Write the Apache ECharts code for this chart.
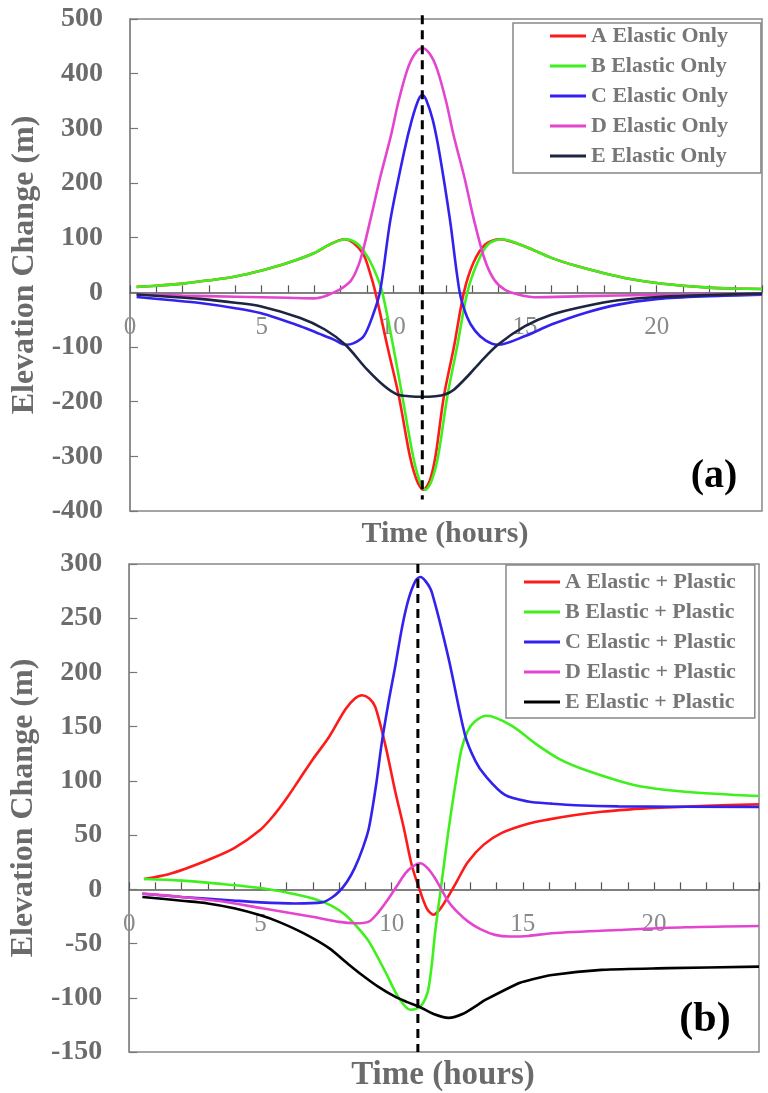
<!DOCTYPE html>
<html>
<head>
<meta charset="utf-8">
<script src="https://cdn.jsdelivr.net/npm/echarts@6/dist/echarts.min.js"></script>
<style>
  html, body { margin: 0; padding: 0; background: #fff; }
  #chart { width: 768px; height: 1093px; }
</style>
</head>
<body>
<div id="chart"></div>
<script>
// Elevation change (m) against time (hours), [hour, metres] pairs per curve.

// (a) elastic deformation only
const aElastic = [[0.25,10],[1,12],[2,16],[3,22],[4,29],[5,40],[6,54],[7,72],[7.6,88],[8.15,97],[8.5,90],[8.87,69],[9.1,38],[9.32,0],[9.78,-100],[10.21,-190],[10.63,-300],[10.9,-345],[11.14,-361],[11.38,-345],[11.6,-300],[11.92,-190],[12.3,-100],[12.68,0],[13.05,55],[13.5,88],[14.04,97],[15,84],[16,63],[17,47.5],[18,35],[19,24.5],[20,17],[21,12],[22,8.6],[23,7],[24,6]];
const bElastic = [[0.25,10],[1,12],[2,16],[3,22],[4,29],[5,40],[6,54],[7,72],[7.6,88],[8.2,97],[8.6,90],[8.97,69],[9.3,38],[9.58,0],[10.0,-100],[10.34,-190],[10.75,-300],[11.0,-345],[11.22,-361],[11.45,-345],[11.7,-300],[12.05,-190],[12.42,-100],[12.81,0],[13.2,55],[13.6,88],[14.1,97],[15,84],[16,63],[17,47.5],[18,35],[19,24.5],[20,17],[21,12],[22,8.6],[23,7],[24,6]];
const cElastic = [[0.25,-8.5],[1.5,-14],[2.66,-19.5],[4,-29],[4.95,-38],[6.47,-62],[7.2,-76],[7.74,-86.5],[8.18,-96],[8.5,-93],[8.88,-80],[9.2,-45],[9.49,0],[9.89,133],[10.4,255],[10.7,315],[10.95,352],[11.1,361],[11.25,352],[11.5,315],[11.75,255],[12.15,133],[12.52,0],[12.8,-45],[13.1,-70],[13.5,-88],[13.97,-96],[15,-80],[16,-59],[17.28,-37.7],[18.54,-22.5],[20.06,-12],[22,-7],[24,-4.2]];
const dElastic = [[0.25,-4],[2,-6],[4,-8],[6,-10],[7,-11],[7.4,-7],[7.74,0],[8.0,6],[8.4,22],[8.75,60],[9.13,133],[9.5,210],[9.9,285],[10.2,350],[10.53,407],[10.8,435],[11.1,447],[11.4,435],[11.67,407],[12.0,350],[12.3,285],[12.7,210],[13.06,133],[13.47,60],[13.83,23],[14.23,5],[14.74,-4],[15.37,-9],[17.27,-7],[19.8,-5],[24,-3]];
const eElastic = [[0.25,-4],[1.5,-8],[2.66,-12],[4,-19],[4.95,-25.5],[6.47,-47],[7.4,-68],[8.18,-96],[9.0,-141],[9.67,-172],[10.15,-187],[10.6,-190],[11.1,-191],[11.6,-190],[11.95,-187],[12.3,-178],[12.83,-153],[13.3,-128],[13.98,-95.6],[15,-62],[16,-41],[17.28,-25.6],[18.54,-14.6],[20.06,-8.5],[22,-5],[24,-2.4]];

// (b) elastic + plastic deformation
const aPlastic = [[0.56,9.5],[1.5,14],[2.14,19],[3,27],[4,38],[5,55],[5.5,68],[6,84],[6.5,102],[7,120],[7.6,140],[8.24,166],[8.6,176],[8.87,179],[9.15,176],[9.38,168],[9.76,133],[10.14,90],[10.46,57],[10.77,22],[11.09,-2],[11.35,-18],[11.6,-23.5],[11.85,-18],[12.17,-6],[12.5,8],[12.9,25],[13.5,41],[14.2,52],[15.2,60.5],[16,64.5],[17,68.5],[18,71.5],[19,73.5],[20,75],[22,77],[24,78.5]];
const bPlastic = [[0.56,9.5],[2,8],[3.5,5],[5.07,1],[6,-3],[6.97,-8.3],[7.7,-15],[8.24,-23.7],[8.7,-35],[9.13,-48],[9.76,-76],[10.27,-100],[10.71,-111],[10.95,-110],[11.15,-106.5],[11.3,-100],[11.41,-91],[11.55,-65],[11.66,-39],[11.91,7],[12.17,55],[12.45,100],[12.67,130],[12.9,146],[13.18,155],[13.62,160],[14.57,151],[15.48,134.4],[16.4,120],[17.38,110],[19.28,96],[21.18,90],[24,86]];
const cPlastic = [[0.5,-4],[2,-7],[3.8,-10],[5,-12],[6.34,-13],[7.35,-12],[7.7,-8],[8.0,-2],[8.3,7],[8.6,20],[8.9,38],[9.13,56],[9.4,95],[9.63,136],[9.9,175],[10.14,206],[10.4,242],[10.65,268],[10.9,284],[11.09,288],[11.3,284],[11.53,274],[12.17,213],[12.8,142],[13.2,118],[13.56,105],[14.32,87],[15.2,81],[16.1,79],[17,77.5],[18.64,76.5],[24,76]];
const dPlastic = [[0.5,-4],[2,-7],[3.5,-11],[5.07,-17.5],[6.97,-25.2],[8,-30],[8.62,-31.3],[9.13,-29.8],[9.5,-21],[9.89,-8.3],[10.2,3],[10.52,14.7],[10.8,21],[11.09,24],[11.35,20],[11.66,10],[12.17,-11.4],[12.55,-22],[12.93,-30],[13.4,-37],[13.94,-42],[14.5,-43.5],[15.2,-43],[16.1,-40.5],[18.64,-37.5],[21.2,-35],[24,-33.8]];
const ePlastic = [[0.5,-7],[2,-10.5],[3,-13],[4,-17.5],[5,-24],[5.7,-30],[6.6,-40],[7.6,-54],[8.3,-68],[8.87,-79],[9.5,-90],[10.13,-99],[10.6,-104],[11.03,-108],[11.6,-115],[12.17,-118.5],[12.7,-115],[13.31,-106],[13.57,-102],[14.84,-86.6],[15.2,-84],[16.11,-79],[18,-74.3],[20.54,-72.7],[24,-71.3]];

// Time of the peak load, drawn as a dashed vertical line in each panel
const peakHourTop = 11.1;
const peakHourBottom = 11.0;

const namesTop = ['A Elastic Only', 'B Elastic Only', 'C Elastic Only', 'D Elastic Only', 'E Elastic Only'];
const namesBottom = ['A Elastic + Plastic', 'B Elastic + Plastic', 'C Elastic + Plastic', 'D Elastic + Plastic', 'E Elastic + Plastic'];
const colorsTop = ['#ff1a1a', '#3ef01c', '#3322ee', '#e445cf', '#1c2541'];
const colorsBottom = ['#ff1a1a', '#3ef01c', '#3322ee', '#e445cf', '#000000'];

const FONT = 'Liberation Serif';
const GREY = '#6b6b6b';

// Panel layout: grid boxes and y ranges
const panels = [
  { left: 130, top: 19, width: 632, height: 492, yMin: -400, yMax: 500, yStep: 100 },
  { left: 128, top: 564, width: 631, height: 488, yMin: -150, yMax: 300, yStep: 50 }
];

// The time axis runs along elevation zero, so shift it up from the grid bottom
function xAxisFor(i) {
  const p = panels[i];
  const zeroLift = (0 - p.yMin) / (p.yMax - p.yMin) * p.height;
  return {
    gridIndex: i, type: 'value', min: 0, max: 24, interval: 1,
    offset: -zeroLift,
    axisLine: { onZero: false, lineStyle: { color: '#555', width: 1.5 } },
    axisTick: { inside: true, length: 7, lineStyle: { color: '#555', width: 1.2 } },
    axisLabel: {
      formatter: v => (v % 5 === 0 && v < 24) ? String(v) : '',
      color: '#8a8a8a', fontFamily: FONT, fontSize: 25, margin: 23
    },
    splitLine: { show: false }
  };
}

function yAxisFor(i) {
  const p = panels[i];
  return {
    gridIndex: i, type: 'value', min: p.yMin, max: p.yMax, interval: p.yStep,
    name: 'Elevation Change (m)', nameLocation: 'middle', nameGap: 80, nameRotate: 90,
    nameTextStyle: { fontFamily: FONT, fontWeight: 'bold', fontSize: 32, color: GREY },
    axisLine: { show: true, onZero: false, lineStyle: { color: '#888', width: 1.5 } },
    axisTick: { show: true, inside: true, length: 8, lineStyle: { color: '#777', width: 1.2 } },
    axisLabel: { fontFamily: FONT, fontWeight: 'bold', fontSize: 28, color: GREY, margin: 27 },
    splitLine: { show: false }
  };
}

function curve(name, data, color, idx) {
  return {
    name, type: 'line', data, xAxisIndex: idx, yAxisIndex: idx,
    showSymbol: false, smooth: 0.3,
    lineStyle: { color, width: 2.6 }, itemStyle: { color }, z: 3
  };
}

function dashed(hour, top, bottom, idx) {
  return {
    type: 'line', data: [[hour, top], [hour, bottom]], xAxisIndex: idx, yAxisIndex: idx,
    showSymbol: false, clip: false, silent: true, z: 5,
    lineStyle: { color: '#000', width: 3, type: [9, 6] }
  };
}

function legendFor(names, left, top, padding) {
  return {
    data: names, orient: 'vertical', left, top, padding,
    icon: 'rect', itemWidth: 36, itemHeight: 3, itemGap: 8,
    backgroundColor: '#fff', borderColor: '#888', borderWidth: 1.5,
    textStyle: { fontFamily: FONT, fontWeight: 'bold', fontSize: 22, lineHeight: 22, color: '#777' }
  };
}

const topSets = [aElastic, bElastic, cElastic, dElastic, eElastic];
const bottomSets = [aPlastic, bPlastic, cPlastic, dPlastic, ePlastic];

const series = [];
topSets.forEach((d, i) => series.push(curve(namesTop[i], d, colorsTop[i], 0)));
bottomSets.forEach((d, i) => series.push(curve(namesBottom[i], d, colorsBottom[i], 1)));
series.push(dashed(peakHourTop, 507, -379, 0));
series.push(dashed(peakHourBottom, 300, -150, 1));

const chart = echarts.init(document.getElementById('chart'), null, { renderer: 'canvas' });
chart.setOption({
  backgroundColor: '#fff',
  animation: false,
  grid: panels.map(p => ({ left: p.left, top: p.top, width: p.width, height: p.height, show: true, borderColor: '#888', borderWidth: 1.5 })),
  xAxis: [xAxisFor(0), xAxisFor(1)],
  yAxis: [yAxisFor(0), yAxisFor(1)],
  legend: [
    legendFor(namesTop, 513, 23, [2, 33, 6, 37]),
    legendFor(namesBottom, 506, 565, [6, 19, 5, 18])
  ],
  graphic: [
    { type: 'text', x: 445, y: 534, style: { text: 'Time (hours)', fontFamily: FONT, fontWeight: 'bold', fontSize: 30, fill: GREY, textAlign: 'center', textVerticalAlign: 'middle' } },
    { type: 'text', x: 443, y: 1075, style: { text: 'Time (hours)', fontFamily: FONT, fontWeight: 'bold', fontSize: 33, fill: GREY, textAlign: 'center', textVerticalAlign: 'middle' } },
    { type: 'text', x: 714, y: 477, style: { text: '(a)', fontFamily: FONT, fontWeight: 'bold', fontSize: 40, fill: '#000', textAlign: 'center', textVerticalAlign: 'middle' } },
    { type: 'text', x: 705, y: 1020, style: { text: '(b)', fontFamily: FONT, fontWeight: 'bold', fontSize: 42, fill: '#000', textAlign: 'center', textVerticalAlign: 'middle' } }
  ],
  series
});
</script>
</body>
</html>
